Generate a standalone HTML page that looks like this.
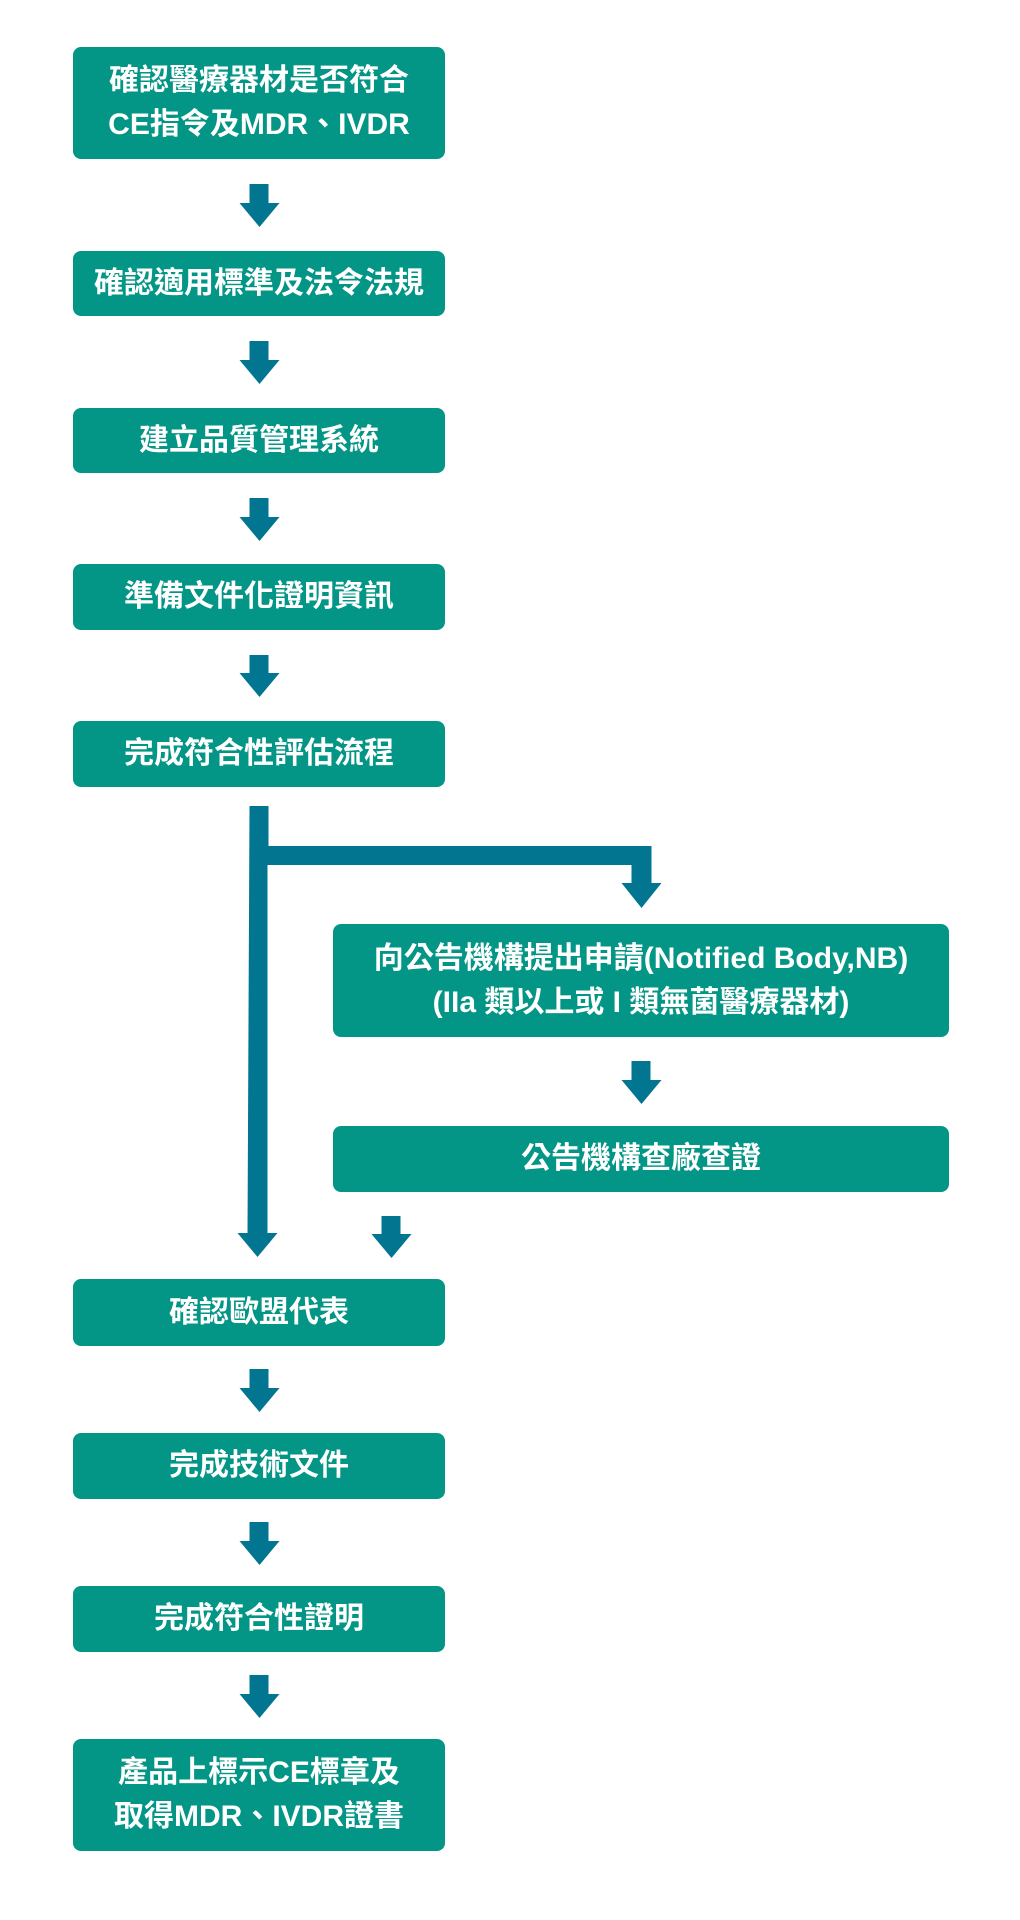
<!DOCTYPE html>
<html><head><meta charset="utf-8"><style>
html,body{margin:0;padding:0;background:#fff;}
body{width:1020px;height:1920px;position:relative;overflow:hidden;font-family:"Liberation Sans","Noto Sans CJK TC",sans-serif;}
.b{position:absolute;background:#039585;border-radius:8px;color:#fff;font-weight:bold;font-size:30px;line-height:44px;display:flex;align-items:center;justify-content:center;text-align:center;white-space:nowrap;}
svg{position:absolute;left:0;top:0;}
</style></head><body>
<svg width="1020" height="1920" fill="#027690">
<path d="M249.5 184h19v19h11l-20 24-20-24h10z"/>
<path d="M249.5 341h19v19h11l-20 24-20-24h10z"/>
<path d="M249.5 498h19v19h11l-20 24-20-24h10z"/>
<path d="M249.5 655h19v18h11l-20 24-20-24h10z"/>
<path d="M249.5 806h19v40h383v37h10l-20 25-20-25h10v-18h-364v368h10l-20 24-20-24h10z"/>
<path d="M631.5 1061h19v19h11l-20 24-20-24h10z"/>
<path d="M381.5 1216h19v18h11l-20 24-20-24h10z"/>
<path d="M249.5 1369h19v19h11l-20 24-20-24h10z"/>
<path d="M249.5 1522h19v19h11l-20 24-20-24h10z"/>
<path d="M249.5 1675h19v19h11l-20 24-20-24h10z"/>
</svg>
<div class="b" style="left:73px;top:47px;width:372px;height:112px;">確認醫療器材是否符合<br>CE指令及MDR、IVDR</div>
<div class="b" style="left:73px;top:251px;width:372px;height:65px;">確認適用標準及法令法規</div>
<div class="b" style="left:73px;top:408px;width:372px;height:65px;">建立品質管理系統</div>
<div class="b" style="left:73px;top:564px;width:372px;height:66px;">準備文件化證明資訊</div>
<div class="b" style="left:73px;top:721px;width:372px;height:66px;">完成符合性評估流程</div>
<div class="b" style="left:333px;top:924px;width:616px;height:113px;">向公告機構提出申請(Notified Body,NB)<br>(IIa 類以上或 I 類無菌醫療器材)</div>
<div class="b" style="left:333px;top:1126px;width:616px;height:66px;">公告機構查廠查證</div>
<div class="b" style="left:73px;top:1279px;width:372px;height:67px;">確認歐盟代表</div>
<div class="b" style="left:73px;top:1433px;width:372px;height:66px;">完成技術文件</div>
<div class="b" style="left:73px;top:1586px;width:372px;height:66px;">完成符合性證明</div>
<div class="b" style="left:73px;top:1739px;width:372px;height:112px;">產品上標示CE標章及<br>取得MDR、IVDR證書</div>
</body></html>
